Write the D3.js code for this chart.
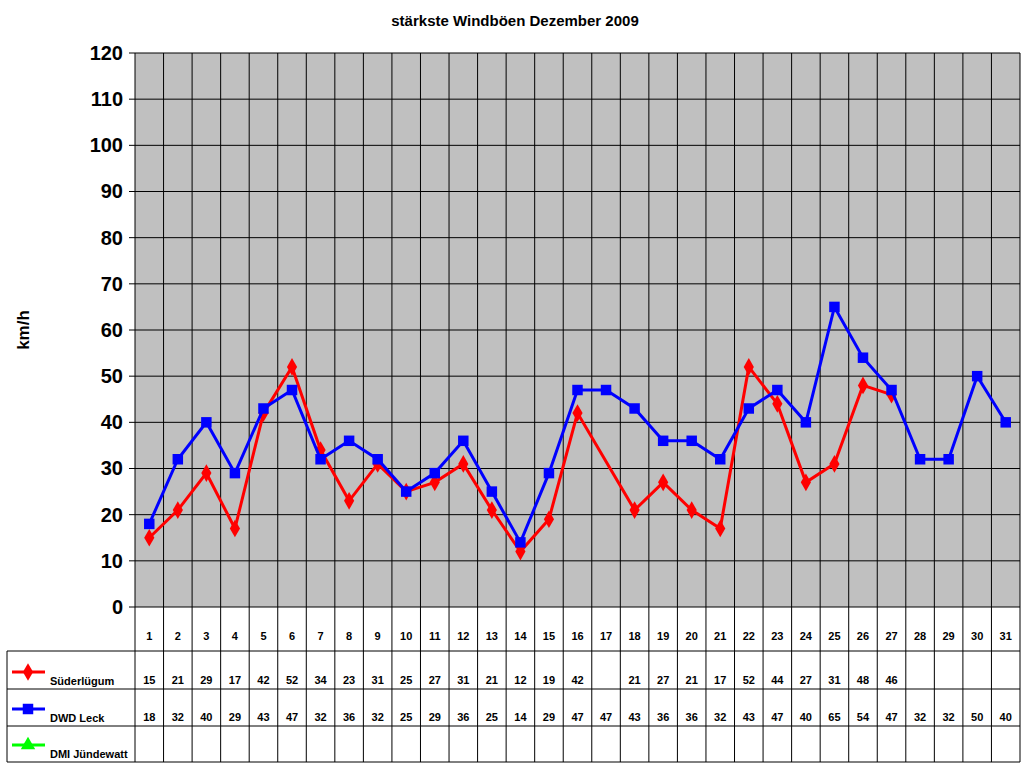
<!DOCTYPE html>
<html><head><meta charset="utf-8">
<script src="https://cdn.jsdelivr.net/npm/d3@7"></script>
<style>body{margin:0;background:#fff}text{font-family:Arial,"Liberation Sans",sans-serif;font-weight:bold}</style>
</head><body><svg id="c" width="1024" height="768"></svg>
<script>
const days = d3.range(1, 32);
const sued = [15,21,29,17,42,52,34,23,31,25,27,31,21,12,19,42,null,21,27,21,17,52,44,27,31,48,46,null,null,null,null];
const leck = [18,32,40,29,43,47,32,36,32,25,29,36,25,14,29,47,47,43,36,36,32,43,47,40,65,54,47,32,32,50,40];
const dmi = days.map(() => null);
const yTicks = d3.range(0, 121, 10);

const svg = d3.select('#c');
const L = 135, R = 1020, T = 53, B = 607, TL = 7;
const rows = [607, 651, 689, 726, 762];

const x = d3.scaleBand().domain(days).range([L, R]);
const y = d3.scaleLinear().domain([0, 120]).range([B, T]);

svg.append('text').attr('x', 515).attr('y', 26).attr('text-anchor', 'middle')
  .attr('font-size', 15).text('stärkste Windböen Dezember 2009');

svg.append('rect').attr('x', L).attr('y', T).attr('width', R - L).attr('height', B - T)
  .attr('fill', '#c0c0c0');

// grid
svg.append('g').selectAll('line').data(yTicks).join('line')
  .attr('x1', L - 6).attr('x2', R).attr('y1', d => y(d)).attr('y2', d => y(d))
  .attr('stroke', '#000');
svg.append('g').selectAll('line').data(days.concat([32])).join('line')
  .attr('x1', d => d === 32 ? R : x(d)).attr('x2', d => d === 32 ? R : x(d))
  .attr('y1', T).attr('y2', rows[4]).attr('stroke', '#000');

const yAxis = svg.append('g').attr('transform', `translate(${L - 6},0)`)
  .call(d3.axisLeft(y).tickValues(yTicks).tickSize(0).tickPadding(6));
yAxis.select('.domain').remove();
yAxis.selectAll('text').attr('font-size', 20).attr('fill', '#000')
  .style('font-family', 'Arial,"Liberation Sans",sans-serif').style('font-weight', 'bold');

svg.append('text').attr('transform', 'translate(29,330) rotate(-90)').attr('text-anchor', 'middle')
  .attr('font-size', 17).text('km/h');

// table lines
svg.append('g').selectAll('line').data(rows.slice(1)).join('line')
  .attr('x1', TL).attr('x2', R).attr('y1', d => d).attr('y2', d => d).attr('stroke', '#000');
svg.append('line').attr('x1', TL).attr('x2', TL).attr('y1', rows[1]).attr('y2', rows[4]).attr('stroke', '#000');

svg.append('g').selectAll('text').data(days).join('text')
  .attr('x', d => x(d) + x.bandwidth() / 2).attr('y', 640).attr('text-anchor', 'middle')
  .attr('font-size', 11).text(d => d);

const series = [
  {name: 'Süderlügum', vals: sued, color: '#ff0000', sym: d3.symbolDiamond, size: 90},
  {name: 'DWD Leck', vals: leck, color: '#0000ff', sym: d3.symbolSquare, size: 110},
  {name: 'DMI Jündewatt', vals: dmi, color: '#00ff00', sym: d3.symbolTriangle, size: 90}
];

series.forEach((s, i) => {
  const ty = rows[i + 2] - 5;
  svg.append('g').selectAll('text').data(days).join('text')
    .attr('x', d => x(d) + x.bandwidth() / 2).attr('y', ty).attr('text-anchor', 'middle')
    .attr('font-size', 11).text((d, j) => s.vals[j] == null ? '' : s.vals[j]);
  svg.append('line').attr('x1', 12).attr('x2', 45).attr('y1', ty - 12).attr('y2', ty - 12)
    .attr('stroke', s.color).attr('stroke-width', 3);
  svg.append('path').attr('d', d3.symbol().type(s.sym).size(s.size)())
    .attr('transform', `translate(28,${ty - 12})`).attr('fill', s.color);
  svg.append('text').attr('x', 50).attr('y', ty + 1).attr('font-size', 11).text(s.name);

  const pts = days.map((d, j) => [d, s.vals[j]]).filter(p => p[1] != null);
  const line = d3.line().x(p => x(p[0]) + x.bandwidth() / 2).y(p => y(p[1]));
  svg.append('path').datum(pts).attr('d', line).attr('fill', 'none')
    .attr('stroke', s.color).attr('stroke-width', 3);
  svg.append('g').selectAll('path').data(pts).join('path')
    .attr('d', d3.symbol().type(s.sym).size(s.size)())
    .attr('transform', p => `translate(${x(p[0]) + x.bandwidth() / 2},${y(p[1])})`)
    .attr('fill', s.color);
});
// draw red over blue as in reference? reference shows blue on top mostly; keep order
</script></body></html>
